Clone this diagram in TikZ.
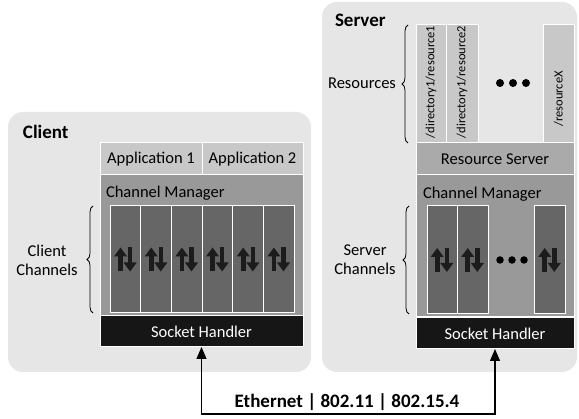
\documentclass[tikz,border=0pt]{standalone}
\usepackage{fontspec}
\setmainfont{Carlito}
\usetikzlibrary{positioning,arrows.meta,decorations.pathreplacing}
\definecolor{panelbg}{RGB}{230,230,230}
\definecolor{appgray}{RGB}{200,200,200}
\definecolor{mgrgray}{RGB}{153,153,153}
\definecolor{rsgray}{RGB}{170,170,170}
\definecolor{changray}{RGB}{102,102,102}
\definecolor{sockblack}{RGB}{22,22,22}
\definecolor{inkblack}{RGB}{28,28,28}
\tikzset{
  updown/.pic={
    \draw[inkblack, line width=4.6pt, -{Triangle[length=9pt,width=12.5pt]}] (-4.8,12) -- (-4.8,-12);
    \draw[inkblack, line width=4.6pt, -{Triangle[length=9pt,width=12.5pt]}] (4.8,-12) -- (4.8,12);
  }
}
\begin{document}
\begin{tikzpicture}[x=1pt,y=-1pt,
  every node/.style={inner sep=0pt, outer sep=0pt},
  panel/.style={fill=panelbg, rounded corners=15pt},
  cell/.style={draw=white, line width=1pt, anchor=north west},
  lbl/.style={font=\fontsize{16.5}{19}\selectfont},
  small/.style={font=\fontsize{12.5}{14}\selectfont},
  ttl/.style={font=\bfseries\fontsize{19}{21}\selectfont, anchor=base west},
  curly/.style={decorate, decoration={brace, amplitude=6pt}, line width=0.8pt},
  dot/.style={circle, fill=black, minimum size=8pt},
  link/.style={line width=1.3pt, {Triangle[length=12pt,width=10pt]}-{Triangle[length=12pt,width=10pt]}}]
\useasboundingbox (0,0) rectangle (579,419);

% client side
\fill[panel] (8,112) rectangle (311,372);
\node[ttl] (client) at (23,139) {Client};
\node[cell, fill=appgray, minimum width=102pt, minimum height=32pt, lbl] (app1) at (100,143) {Application 1};
\node[cell, fill=appgray, minimum width=101pt, minimum height=32pt, lbl] (app2) at (202,143) {Application 2};
\node[cell, fill=mgrgray, minimum width=203pt, minimum height=141pt] (cmgr) at (100,175) {};
\node[lbl, anchor=base west] at (106,198) {Channel Manager};
\foreach \i in {1,...,6}{
  \node[cell, fill=changray, minimum width=30.67pt, minimum height=107pt] (cch\i) at ({110+(\i-1)*30.67},206) {};
  \pic at (cch\i.center) {updown};
}
\node[cell, fill=sockblack, minimum width=203pt, minimum height=31pt, lbl, text=white] (csock) at (100,316) {Socket Handler};
\draw[curly] ([xshift=-17pt]cch1.south west) -- ([xshift=-17pt]cch1.north west) coordinate[pos=0.5] (cbr);
\node[lbl, align=center] (cchan) at (47,260) {Client\\Channels};

% server side
\fill[panel] (322,2) rectangle (577,372);
\node[ttl] (server) at (335,27) {Server};
\node[cell, fill=appgray, minimum width=30pt, minimum height=118pt] (res1) at (416,25) {};
\node[cell, fill=appgray, minimum width=32pt, minimum height=118pt] (res2) at (446,25) {};
\node[cell, fill=appgray, minimum width=31pt, minimum height=118pt] (resx) at (543,25) {};
\node[small, rotate=90] at ([yshift=2pt]res1.center) {/directory1/resource1};
\node[small, rotate=90] at ([yshift=2pt]res2.center) {/directory1/resource2};
\node[small, rotate=90] at (558.5,99) {/resourceX};
\foreach \x in {500,513,526} \node[dot] at (\x,83) {};
\draw[curly] (408,143) -- (408,25);
\node[lbl] (rlabel) at (362,83) {Resources};
\node[cell, fill=rsgray, minimum width=158pt, minimum height=32pt, lbl] (rserv) at (416,143) {Resource Server};
\node[cell, fill=mgrgray, minimum width=158pt, minimum height=142pt] (smgr) at (416,175) {};
\node[lbl, anchor=base west] at (423,199) {Channel Manager};
\node[cell, fill=changray, minimum width=30pt, minimum height=108pt] (sch1) at (427,206) {};
\node[cell, fill=changray, minimum width=31pt, minimum height=108pt] (sch2) at (457,206) {};
\node[cell, fill=changray, minimum width=31pt, minimum height=108pt] (sch3) at (534,206) {};
\foreach \n in {sch1,sch2,sch3} \pic at (\n.center) {updown};
\foreach \x in {500,512,524} \node[dot, minimum size=7.5pt] at (\x,260) {};
\draw[curly] ([xshift=-18pt]sch1.south west) -- ([xshift=-18pt]sch1.north west);
\node[lbl, align=center] (schan) at (365,260) {Server\\Channels};
\node[cell, fill=sockblack, minimum width=158pt, minimum height=31pt, lbl, text=white] (ssock) at (416,318) {Socket Handler};

% network link
\draw[link] (csock.south) -- ++(0,67) coordinate (lbase) -| (ssock.south);
\node[font=\bfseries\fontsize{19}{21}\selectfont] (net) at (347,402) {Ethernet | 802.11 | 802.15.4};
\end{tikzpicture}
\end{document}
